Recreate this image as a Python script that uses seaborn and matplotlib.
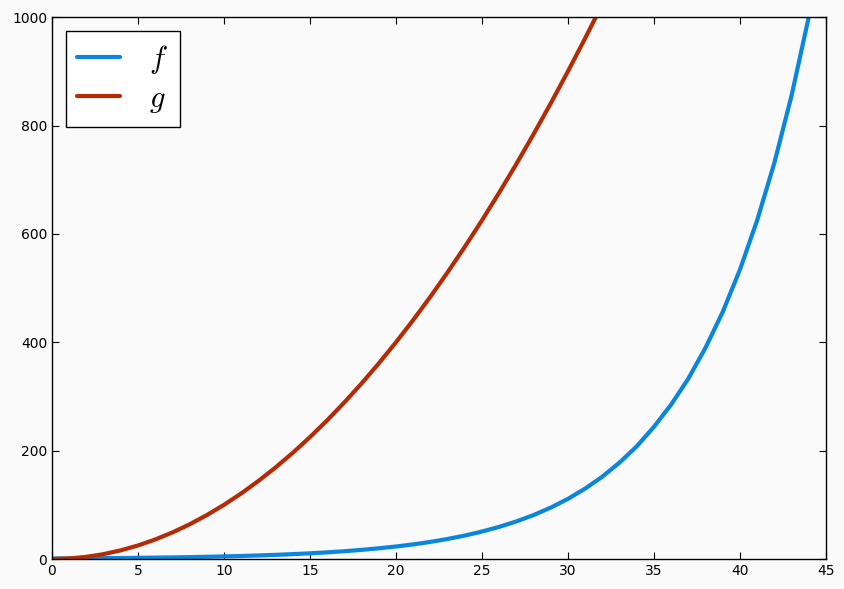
import numpy as np
import pandas as pd
import matplotlib
matplotlib.use("Agg")
import matplotlib.pyplot as plt
import seaborn as sns

# %% Data
x_f = list(range(0, 46))
f_vals = [1.0, 1.2, 1.4, 1.6, 1.9, 2.2, 2.6, 3.0, 3.5, 4.1,
          4.8, 5.6, 6.6, 7.7, 9.0, 10.5, 12.3, 14.4, 16.9, 19.8,
          23.1, 27.0, 31.6, 37.0, 43.3, 50.7, 59.3, 69.4, 81.1, 94.9,
          111, 130, 152, 178, 208, 244, 285, 333, 390, 456,
          534, 625, 731, 855, 1000, 1170]

x_g = list(range(0, 33))
g_vals = [0, 1, 4, 9, 16, 25, 36, 49, 64, 81,
          100, 121, 144, 169, 196, 225, 256, 289, 324, 361,
          400, 441, 484, 529, 576, 625, 676, 729, 784, 841,
          900, 961, 1024]

df_f = pd.DataFrame({"x": x_f, "y": f_vals})
df_g = pd.DataFrame({"x": x_g, "y": g_vals})

# %% Style
sns.set_style("ticks", {"xtick.direction": "in", "ytick.direction": "in"})
plt.rcParams["font.family"] = ["DejaVu Sans"]
plt.rcParams["mathtext.fontset"] = "cm"

fig = plt.figure(figsize=(8.44, 5.89), dpi=100, facecolor="#fafafa")
ax = fig.add_axes([0.0616, 0.0509, 0.917, 0.920])
ax.set_facecolor("#fafafa")

sns.lineplot(data=df_f, x="x", y="y", ax=ax, color="#0a86dc", linewidth=3, label="$f$")
sns.lineplot(data=df_g, x="x", y="y", ax=ax, color="#b52b05", linewidth=3, label="$g$")

ax.set_xlim(0, 45)
ax.set_ylim(0, 1000)
ax.set_xticks(range(0, 46, 5))
ax.set_yticks(range(0, 1001, 200))
ax.set_xlabel("")
ax.set_ylabel("")
ax.tick_params(direction="in", top=True, right=True, length=5, width=0.8,
               labelsize=10, colors="black")
for s in ax.spines.values():
    s.set_visible(True)
    s.set_color("black")
    s.set_linewidth(1)

leg = ax.legend(loc="upper left", fontsize=22, frameon=True, fancybox=False,
                handlelength=1.4, borderpad=0.38, labelspacing=0.28,
                handletextpad=0.95, borderaxespad=0.45, labelcolor="black")
leg.get_frame().set_edgecolor("black")
leg.get_frame().set_facecolor("white")
leg.get_frame().set_alpha(1)
leg.get_frame().set_linewidth(1)

fig.savefig("out.png", dpi=100, facecolor=fig.get_facecolor())
